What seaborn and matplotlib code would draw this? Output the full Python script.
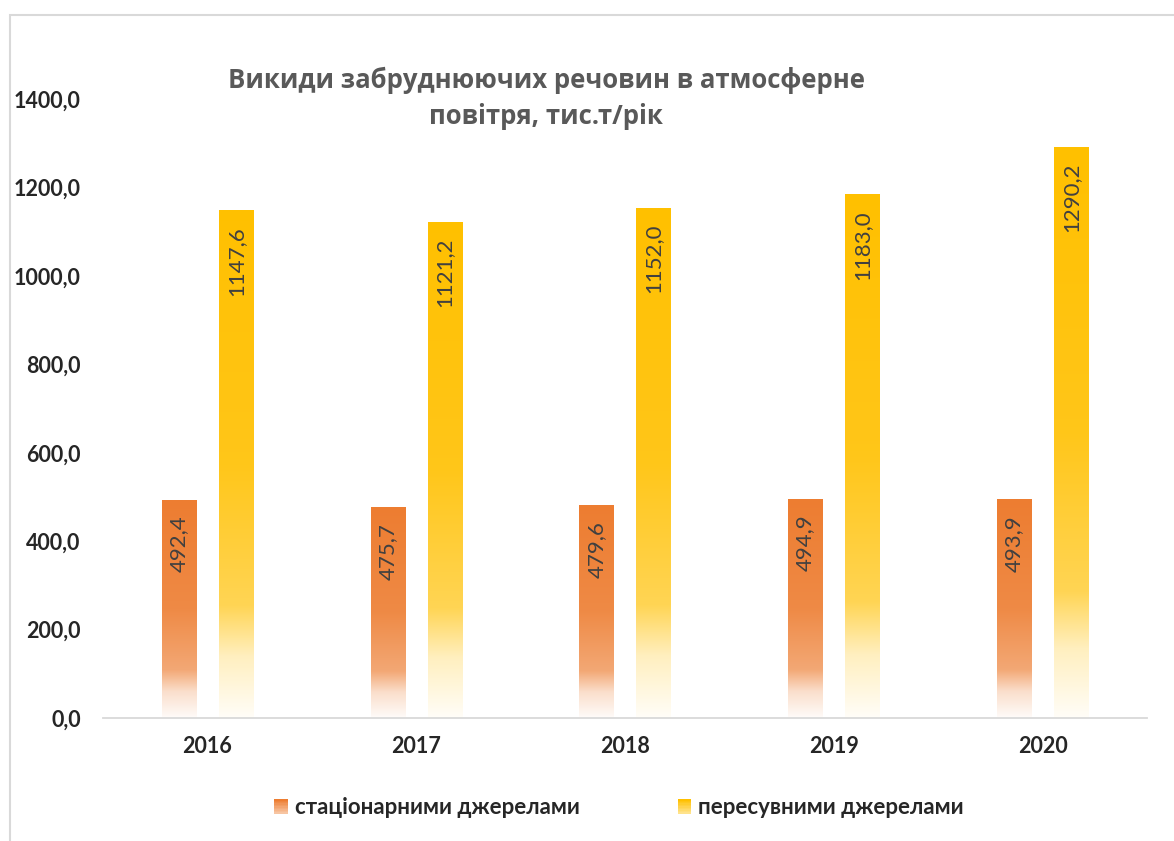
import numpy as np
import pandas as pd
import matplotlib
matplotlib.use("Agg")
import matplotlib.pyplot as plt
import seaborn as sns
from matplotlib.colors import to_rgb
from matplotlib.patches import Rectangle
from matplotlib.legend_handler import HandlerBase

# дані з діаграми
years = ["2016", "2017", "2018", "2019", "2020"]
stationary = [492.4, 475.7, 479.6, 494.9, 493.9]
mobile = [1147.6, 1121.2, 1152.0, 1183.0, 1290.2]
series_names = ["стаціонарними джерелами", "пересувними джерелами"]
series_colors = ["#ED7D31", "#FFC000"]
y_ticks = [0, 200, 400, 600, 800, 1000, 1200, 1400]
title_lines = ["Викиди забруднюючих речовин в атмосферне", "повітря, тис.т/рік"]

df = pd.DataFrame({
    "year": years * 2,
    "source": [series_names[0]] * len(years) + [series_names[1]] * len(years),
    "value": stationary + mobile,
})

sns.set_style("white")
plt.rcParams["font.family"] = ["Lato", "DejaVu Sans"]

W, H = 1174, 841
fig = plt.figure(figsize=(W / 100, H / 100), dpi=100)
ax = fig.add_axes([103 / W, 1 - 718 / H, (1147 - 103) / W, (718 - 99) / H])

sns.barplot(data=df, x="year", y="value", hue="source", palette=series_colors,
            width=0.545, gap=0.4, saturation=1, legend=False, ax=ax)


# частка білого в градієнті (0 - верх стовпчика, 1 - низ)
def white_mix(t):
    return np.interp(t, [0, 0.5, 0.78, 0.88, 1.0], [0, 0.1, 0.33, 0.75, 0.97])


def gradient_rgb(color, n=200):
    base = np.array(to_rgb(color))
    t = np.linspace(0, 1, n)
    w = white_mix(t)[:, None]
    return base * (1 - w) + w


# заміна заливки стовпчиків на вертикальний градієнт
for container, vals, col in zip(ax.containers, [stationary, mobile], series_colors):
    img = gradient_rgb(col)[:, None, :]
    for bar, v in zip(container, vals):
        x, w, h = bar.get_x(), bar.get_width(), bar.get_height()
        ax.imshow(img, extent=[x, x + w, 0, h], origin="upper", aspect="auto",
                  interpolation="bilinear", zorder=2)
        bar.set_visible(False)
        ax.annotate(f"{v:.1f}".replace(".", ","), (x + w / 2, h),
                    xytext=(0, -11), textcoords="offset points",
                    rotation=90, ha="center", va="top", fontsize=16,
                    color="#404040", zorder=3)

ax.set_xlim(-0.5, len(years) - 0.5)
ax.set_ylim(0, 1400)
ax.set_yticks(y_ticks)
ax.set_yticklabels([f"{t:.1f}".replace(".", ",") for t in y_ticks])
ax.set_xlabel("")
ax.set_ylabel("")
ax.tick_params(axis="y", length=0, pad=16, labelsize=15.5)
ax.tick_params(axis="x", length=0, pad=13, labelsize=15.5)
for lab in ax.get_xticklabels() + ax.get_yticklabels():
    lab.set_fontweight("bold")
for s in ["left", "right", "top"]:
    ax.spines[s].set_visible(False)
ax.spines["bottom"].set_color("#D9D9D9")
ax.spines["bottom"].set_linewidth(1.3)
ax.grid(False)

# заголовок
fig.text(546 / W, 1 - 80 / H, title_lines[0], ha="center", va="center",
         fontsize=18.5, fontweight="bold", color="#595959",
         family=["Open Sans", "DejaVu Sans"])
fig.text(546 / W, 1 - 116 / H, title_lines[1], ha="center", va="center",
         fontsize=18.5, fontweight="bold", color="#595959",
         family=["Open Sans", "DejaVu Sans"])


# легенда з градієнтними квадратиками
class GradientHandler(HandlerBase):
    def create_artists(self, legend, orig_handle, xdescent, ydescent,
                       width, height, fontsize, trans):
        base = np.array(to_rgb(orig_handle.get_facecolor()))
        t = np.linspace(0, 1, 10)[:, None]
        cols = base * (1 - 0.55 * t) + 0.55 * t
        n = len(cols)
        arts = []
        for i, c in enumerate(cols):
            r = Rectangle((-xdescent, -ydescent + height * (1 - (i + 1) / n)),
                          width, height / n + 0.3, facecolor=c, edgecolor="none",
                          transform=trans)
            arts.append(r)
        return arts


handles = [Rectangle((0, 0), 1, 1, facecolor=c) for c in series_colors]
fig.legend(handles, series_names, loc="center", bbox_to_anchor=(619 / W, 1 - 808 / H),
           ncol=2, frameon=False, handler_map={Rectangle: GradientHandler()},
           handlelength=0.62, handleheight=0.62, handletextpad=0.3,
           columnspacing=4.4, prop={"size": 16, "weight": "bold"})

# рамка діаграми
fig.patches.append(Rectangle((9.5 / W, -0.05), 1.2, 1 - 14.5 / H + 0.05,
                             transform=fig.transFigure, fill=False,
                             edgecolor="#D9D9D9", linewidth=1.5))

fig.savefig("out.png", dpi=100)
